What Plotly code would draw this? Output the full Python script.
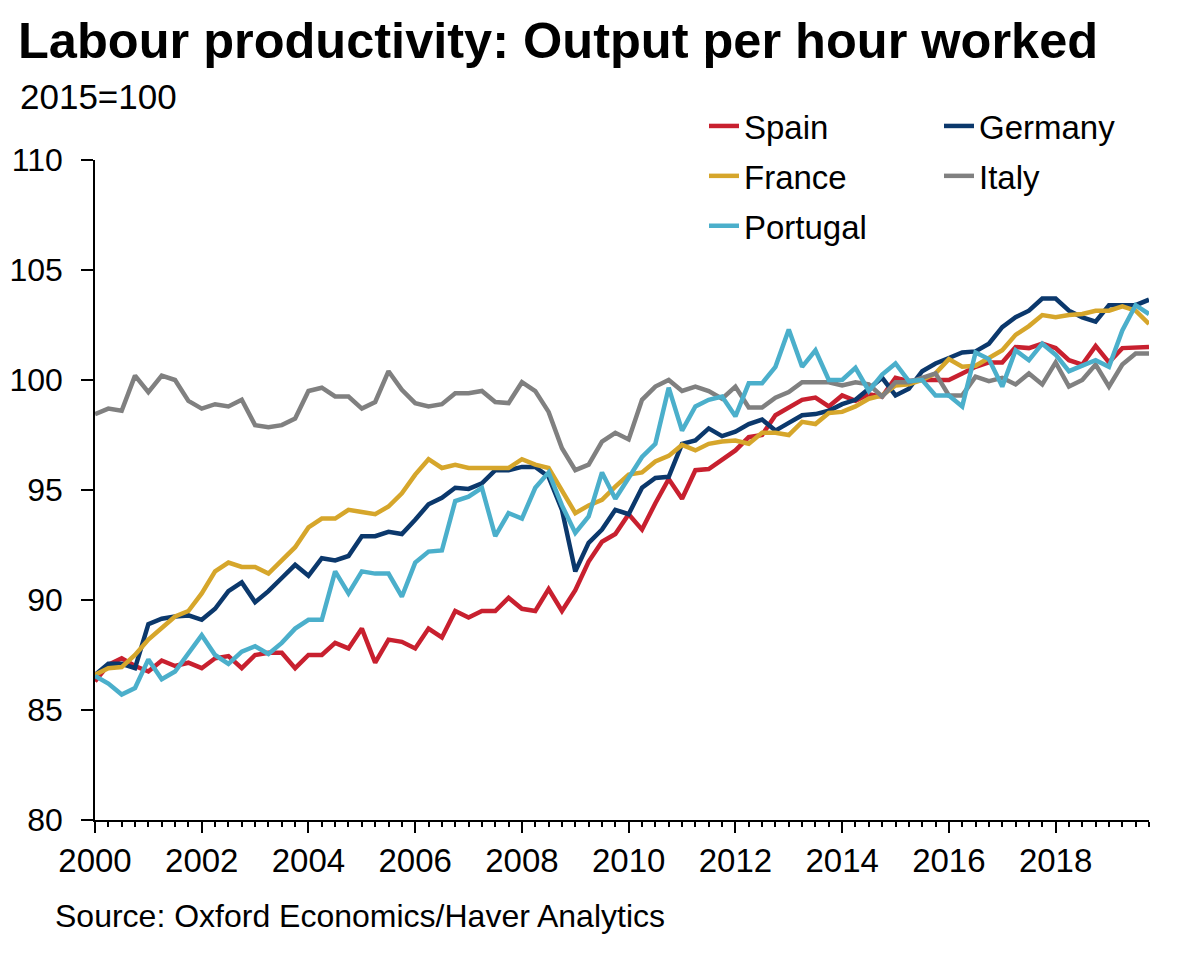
import plotly.graph_objects as go

FONT = "Liberation Sans, Arial, sans-serif"

# quarterly, 2000Q1 .. 2019Q4, 2015=100
year_labels = ["2000", "2002", "2004", "2006", "2008",
               "2010", "2012", "2014", "2016", "2018"]

spain = [
    86.3, 87.05, 87.35, 87.0, 86.75, 87.25, 87.0, 87.15,
    86.9, 87.35, 87.45, 86.9, 87.5, 87.6, 87.6, 86.9,
    87.5, 87.5, 88.05, 87.8, 88.7, 87.15, 88.2, 88.1,
    87.8, 88.7, 88.3, 89.5, 89.2, 89.5, 89.5, 90.1,
    89.6, 89.5, 90.5, 89.5, 90.45, 91.75, 92.65, 93.0,
    93.9, 93.2, 94.4, 95.5, 94.6, 95.9, 95.95, 96.35,
    96.8, 97.4, 97.5, 98.4, 98.75, 99.1, 99.2, 98.8,
    99.3, 99.05, 99.35, 99.25, 100.1, 99.95, 100.0, 100.0,
    100.0, 100.3, 100.6, 100.8, 100.8, 101.5, 101.45, 101.65,
    101.45, 100.9, 100.7, 101.55, 100.8, 101.45, 101.5, 101.5,
]
germany = [
    86.6, 87.1, 87.1, 86.9, 88.9, 89.15, 89.25, 89.3,
    89.1, 89.6, 90.4, 90.8, 89.9, 90.4, 91.0, 91.6,
    91.1, 91.9, 91.8, 92.0, 92.9, 92.9, 93.1, 93.0,
    93.65, 94.35, 94.65, 95.1, 95.05, 95.3, 95.9, 95.9,
    96.05, 96.05, 95.6, 94.1, 91.3, 92.6, 93.2, 94.1,
    93.9, 95.1, 95.55, 95.6, 97.1, 97.25, 97.8, 97.45,
    97.65, 98.0, 98.2, 97.7, 98.05, 98.4, 98.45, 98.6,
    98.9, 99.1, 99.6, 100.1, 99.3, 99.6, 100.4, 100.75,
    101.0, 101.25, 101.3, 101.65, 102.4, 102.85, 103.15, 103.7,
    103.7, 103.15, 102.85, 102.65, 103.4, 103.4, 103.4, 103.65,
]
france = [
    86.6, 86.9, 86.95, 87.5, 88.2, 88.7, 89.25, 89.5,
    90.3, 91.3, 91.7, 91.5, 91.5, 91.2, 91.8, 92.4,
    93.3, 93.7, 93.7, 94.1, 94.0, 93.9, 94.25, 94.85,
    95.7, 96.4, 96.0, 96.15, 96.0, 96.0, 96.0, 96.0,
    96.4, 96.15, 96.0, 95.0, 93.95, 94.3, 94.55, 95.15,
    95.7, 95.8, 96.3, 96.55, 97.05, 96.8, 97.1, 97.2,
    97.25, 97.1, 97.6, 97.6, 97.5, 98.1, 98.0, 98.5,
    98.55, 98.8, 99.15, 99.3, 99.75, 99.8, 100.0, 100.3,
    100.95, 100.6, 100.65, 101.0, 101.35, 102.05, 102.45, 102.95,
    102.85, 102.95, 103.0, 103.15, 103.15, 103.35, 103.15, 102.55,
]
italy = [
    98.45, 98.7, 98.6, 100.2, 99.45, 100.2, 100.0, 99.05,
    98.7, 98.9, 98.8, 99.1, 97.95, 97.85, 97.95, 98.25,
    99.5, 99.65, 99.25, 99.25, 98.7, 99.0, 100.4, 99.55,
    98.95, 98.8, 98.9, 99.4, 99.4, 99.5, 99.0, 98.95,
    99.9, 99.5, 98.55, 96.9, 95.9, 96.15, 97.2, 97.6,
    97.3, 99.1, 99.7, 100.0, 99.5, 99.7, 99.5, 99.15,
    99.7, 98.75, 98.75, 99.2, 99.45, 99.9, 99.9, 99.9,
    99.75, 99.9, 99.8, 99.25, 99.9, 99.9, 100.1, 100.3,
    99.3, 99.3, 100.15, 99.95, 100.1, 99.8, 100.3, 99.8,
    100.8, 99.7, 100.0, 100.7, 99.7, 100.7, 101.2, 101.2,
]
portugal = [
    86.55, 86.2, 85.7, 86.0, 87.3, 86.4, 86.75, 87.6,
    88.4, 87.5, 87.1, 87.65, 87.9, 87.55, 88.05, 88.7,
    89.1, 89.1, 91.3, 90.3, 91.3, 91.2, 91.2, 90.15,
    91.7, 92.2, 92.25, 94.5, 94.7, 95.1, 92.9, 93.95,
    93.7, 95.1, 95.8, 94.3, 93.05, 93.8, 95.8, 94.6,
    95.55, 96.5, 97.1, 99.65, 97.7, 98.8, 99.1, 99.25,
    98.35, 99.85, 99.85, 100.6, 102.3, 100.6, 101.35, 100.0,
    100.0, 100.55, 99.5, 100.25, 100.75, 99.95, 100.0, 99.3,
    99.3, 98.8, 101.25, 100.95, 99.7, 101.35, 100.9, 101.65,
    101.15, 100.4, 100.65, 100.9, 100.6, 102.25, 103.4, 103.0,
]

SERIES = [
    ("Spain", spain, "#C8202F", "legend"),
    ("Germany", germany, "#0B386C", "legend2"),
    ("France", france, "#D6A62B", "legend"),
    ("Italy", italy, "#808080", "legend2"),
    ("Portugal", portugal, "#4BAFCB", "legend"),
]

# page is shown with the browser's 8px body margin, so the plot box is
# placed 8px up/left of where it sits on screen
OFFSET = 8
PLOT_L, PLOT_R, PLOT_T, PLOT_B = 95, 1149, 160, 820


def _paper_x(px):
    return (px - PLOT_L) / (PLOT_R - PLOT_L)


def _paper_y(py):
    return (PLOT_B - py) / (PLOT_B - PLOT_T)


def build_figure():
    quarters = list(range(len(spain)))
    fig = go.Figure()
    for name, values, color, legend in SERIES:
        fig.add_trace(go.Scatter(
            x=quarters, y=values,
            mode="lines",
            name=name,
            line=dict(color=color, width=4.5),
            legend=legend,
            legendgroup=name,
        ))

    legend_font = dict(family=FONT, size=33, color="black")
    fig.update_layout(
        width=1200, height=959,
        margin=dict(l=PLOT_L - OFFSET, r=1200 - PLOT_R + OFFSET,
                    t=PLOT_T - OFFSET, b=959 - PLOT_B + OFFSET,
                    autoexpand=False),
        paper_bgcolor="white", plot_bgcolor="white",
        font=dict(family=FONT, color="black"),
        title=dict(
            text="<b>Labour productivity: Output per hour worked</b>",
            font=dict(family=FONT, size=50.5, color="black"),
            xref="container", yref="container",
            x=(18 - OFFSET) / 1200, xanchor="left",
            y=1 - (40 - OFFSET) / 959, yanchor="middle",
        ),
        legend=dict(
            x=_paper_x(704), y=_paper_y(98),
            xanchor="left", yanchor="top",
            font=legend_font,
            bgcolor="rgba(0,0,0,0)", tracegroupgap=4,
        ),
        legend2=dict(
            x=_paper_x(939), y=_paper_y(98),
            xanchor="left", yanchor="top",
            font=legend_font,
            bgcolor="rgba(0,0,0,0)", tracegroupgap=4,
        ),
        xaxis=dict(
            range=[0, len(quarters) - 1],
            tickmode="array",
            tickvals=[i * 8 for i in range(len(year_labels))],
            ticktext=year_labels,
            ticks="outside", ticklen=11, tickwidth=1.5, tickcolor="black",
            showline=True, linecolor="black", linewidth=1.5,
            showgrid=False, zeroline=False, automargin=False,
            tickfont=dict(family=FONT, size=33, color="black"),
            minor=dict(ticks="outside", ticklen=5, tickwidth=1.5,
                       tickcolor="black", tickmode="linear",
                       tick0=0, dtick=1, showgrid=False),
        ),
        yaxis=dict(
            range=[80, 110], tick0=80, dtick=5,
            ticks="outside", ticklen=12, tickwidth=1.5, tickcolor="black",
            showline=True, linecolor="black", linewidth=1.5,
            showgrid=False, zeroline=False, automargin=False,
            tickfont=dict(family=FONT, size=32, color="black"),
            ticklabelstandoff=12,
        ),
        annotations=[
            dict(text="2015=100", xref="paper", yref="paper",
                 x=_paper_x(18), y=_paper_y(96),
                 xanchor="left", yanchor="middle", showarrow=False,
                 font=dict(family=FONT, size=35, color="black")),
            dict(text="Source: Oxford Economics/Haver Analytics",
                 xref="paper", yref="paper",
                 x=_paper_x(53), y=_paper_y(916),
                 xanchor="left", yanchor="middle", showarrow=False,
                 font=dict(family=FONT, size=32, color="black")),
        ],
    )
    return fig


if __name__ == "__main__":
    build_figure().write_html("out.html")
